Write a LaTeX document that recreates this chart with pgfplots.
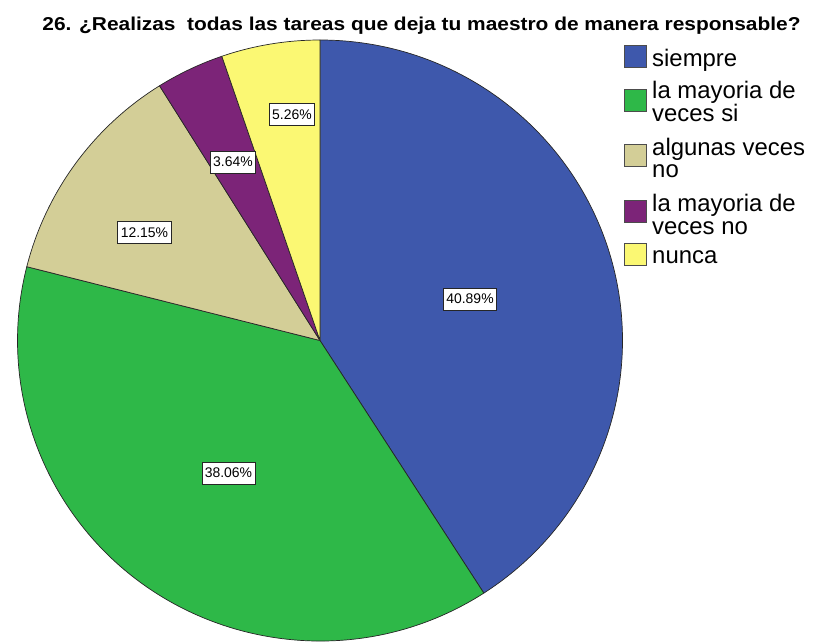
\documentclass[border=0pt]{standalone}
\usepackage{pgfplots}
\usepackage{pgfplotstable}
\pgfplotsset{compat=1.18}
\usepackage{fontspec}
\setmainfont{Liberation Sans}
\definecolor{cblue}{HTML}{3E58AC}
\definecolor{cgreen}{HTML}{2EB848}
\definecolor{ctan}{HTML}{D3CE97}
\definecolor{cpurple}{HTML}{7C2478}
\definecolor{cyellow}{HTML}{FBF873}

\pgfplotstableread{
value color lx ly
40.89 cblue 470 299
38.06 cgreen 228.5 473
12.15 ctan 144.5 232.5
3.64 cpurple 233 162
5.26 cyellow 292 114.5
}\piedata

\newcommand\twolines[3]{\vtop{\baselineskip=#1\lineskiplimit=-100bp\lineskip=0pt\hbox{#2}\hbox{#3}}}

\begin{document}
\begin{tikzpicture}
\begin{axis}[
  width=814bp, height=642bp, scale only axis,
  xmin=0, xmax=814, ymin=0, ymax=642, y dir=reverse,
  axis lines=none, ticks=none, clip=false,
]
\pgfplotstablegetrowsof{\piedata}
\pgfmathtruncatemacro\nrows{\pgfplotsretval-1}
\def\angA{90}
\pgfplotsforeachungrouped \i in {0,...,\nrows}{%
  \pgfplotstablegetelem{\i}{value}\of\piedata \let\v\pgfplotsretval
  \pgfplotstablegetelem{\i}{color}\of\piedata \let\c\pgfplotsretval
  \pgfmathsetmacro\angB{\angA-3.6*\v}%
  \edef\tmp{\noexpand\filldraw[fill=\c, draw=black!85, line width=0.7bp, line join=round]
    (axis cs:320,340.5) -- ++(\angA:302.5bp and 300.5bp)
    arc[start angle=\angA, end angle=\angB, x radius=302.5bp, y radius=300.5bp] -- cycle;}%
  \tmp
  \let\angA\angB
}
\pgfplotsforeachungrouped \i in {0,...,\nrows}{%
  \pgfplotstablegetelem{\i}{value}\of\piedata \let\v\pgfplotsretval
  \pgfplotstablegetelem{\i}{lx}\of\piedata \let\lx\pgfplotsretval
  \pgfplotstablegetelem{\i}{ly}\of\piedata \let\ly\pgfplotsretval
  \edef\tmp{\noexpand\node[fill=white, draw=black!85, line width=0.7bp, inner xsep=3bp, inner ysep=0pt, minimum height=22bp, font=\noexpand\fontsize{14}{16}\noexpand\selectfont]
    at (axis cs:\lx,\ly) {\v\noexpand\%};}%
  \tmp
}
% title
\node[font=\bfseries\fontsize{18.7}{20}\selectfont, inner sep=0pt, anchor=base] at (axis cs:421.5,30.7)
  {\scalebox{1.122}[1]{26. ¿Realizas\ \ todas las tareas que deja tu maestro de manera responsable?}};
% legend
\filldraw[fill=cblue, draw=black!70, line width=0.7bp] (axis cs:624.5,45.5) rectangle (axis cs:646.5,67.5);
\filldraw[fill=cgreen, draw=black!70, line width=0.7bp] (axis cs:624.5,89.5) rectangle (axis cs:646.5,111.5);
\filldraw[fill=ctan, draw=black!70, line width=0.7bp] (axis cs:624.5,144.5) rectangle (axis cs:646.5,166.5);
\filldraw[fill=cpurple, draw=black!70, line width=0.7bp] (axis cs:624.5,200.5) rectangle (axis cs:646.5,222.5);
\filldraw[fill=cyellow, draw=black!70, line width=0.7bp] (axis cs:624.5,243.5) rectangle (axis cs:646.5,265.5);
\begin{scope}[every node/.style={anchor=base west, inner sep=0pt, font=\fontsize{24}{26}\selectfont}]
\node at (axis cs:652,67) {siempre};
\node at (axis cs:652,99) {\twolines{23bp}{la mayoria de}{veces si}};
\node at (axis cs:652,155) {\twolines{22.5bp}{algunas veces}{no}};
\node at (axis cs:652,211) {\twolines{23bp}{la mayoria de}{veces no}};
\node at (axis cs:652,263) {nunca};
\end{scope}
\end{axis}
\pgfresetboundingbox
\useasboundingbox (0,0) rectangle (814bp,642bp);
\end{tikzpicture}
\end{document}
